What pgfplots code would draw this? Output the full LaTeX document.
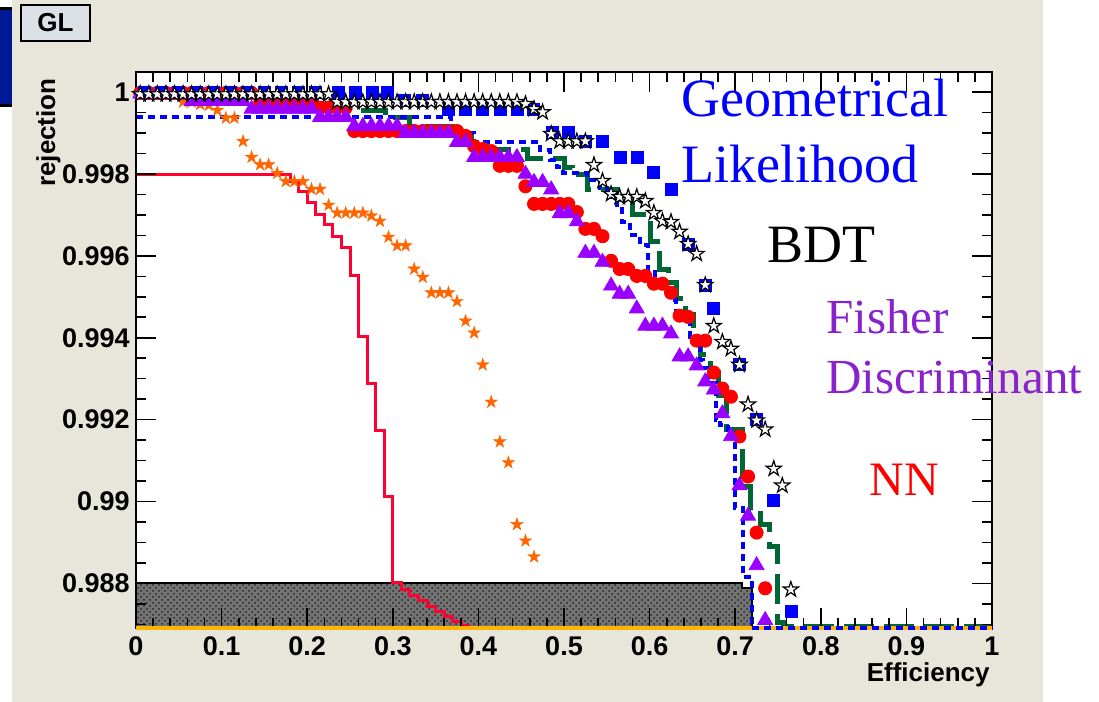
\documentclass[border=0pt]{standalone}
\usepackage{fontspec}
\setmainfont{Liberation Sans}
\newfontfamily\serifont{Liberation Serif}
\usepackage{pgfplots}
\pgfplotsset{compat=1.18}
\usetikzlibrary{patterns}

\definecolor{canvas}{RGB}{232,229,218}
\definecolor{glbox}{RGB}{220,225,232}
\definecolor{barblue}{RGB}{0,25,150}
\definecolor{nnred}{RGB}{255,0,51}
\definecolor{ostar}{RGB}{255,102,0}
\definecolor{fpurple}{RGB}{153,0,255}
\definecolor{ftext}{RGB}{136,34,204}
\definecolor{dgreen}{RGB}{0,102,51}
\definecolor{gold}{RGB}{255,180,0}

\pgfdeclareplotmark{fstar}{%
  \pgfpathmoveto{\pgfpointpolar{90}{\pgfplotmarksize}}%
  \pgfpathlineto{\pgfpointpolar{126}{0.382\pgfplotmarksize}}%
  \pgfpathlineto{\pgfpointpolar{162}{\pgfplotmarksize}}%
  \pgfpathlineto{\pgfpointpolar{198}{0.382\pgfplotmarksize}}%
  \pgfpathlineto{\pgfpointpolar{234}{\pgfplotmarksize}}%
  \pgfpathlineto{\pgfpointpolar{270}{0.382\pgfplotmarksize}}%
  \pgfpathlineto{\pgfpointpolar{306}{\pgfplotmarksize}}%
  \pgfpathlineto{\pgfpointpolar{342}{0.382\pgfplotmarksize}}%
  \pgfpathlineto{\pgfpointpolar{18}{\pgfplotmarksize}}%
  \pgfpathlineto{\pgfpointpolar{54}{0.382\pgfplotmarksize}}%
  \pgfpathclose
  \pgfusepathqfillstroke}

\pgfplotsset{rootframe/.style={
  at={(68pt,37pt)}, anchor=south west,
  scale only axis, width=428pt, height=277.75pt,
  xmin=0, xmax=1, ymin=0.98691, ymax=1.00048, clip=false}}

\begin{document}
\begin{tikzpicture}
\path[use as bounding box] (0,0) rectangle (549.5pt,351pt);
\fill[white] (0,0) rectangle (549.5pt,351pt);
\fill[canvas] (6pt,0) rectangle (521.5pt,351pt);
\fill[black] (0,297.5pt) rectangle (6pt,347.5pt);
\fill[barblue] (0,299pt) rectangle (6pt,346pt);
\draw[fill=glbox, line width=1pt] (10.5pt,330.5pt) rectangle (45pt,348.5pt);
\node[inner sep=0pt, font=\fontsize{13}{15}\selectfont\bfseries] at (27.75pt,339.5pt) {GL};

\begin{axis}[
  rootframe,
  axis on top,
  axis background/.style={fill=white},
  axis line style={line width=1pt},
  xtick={0,0.1,0.2,0.3,0.4,0.5,0.6,0.7,0.8,0.9,1},
  minor x tick num=4,
  ytick={0.988,0.990,0.992,0.994,0.996,0.998,1},
  minor ytick={0.987,0.9875,0.9885,0.989,0.9895,0.9905,0.991,0.9915,0.9925,0.993,0.9935,0.9945,0.995,0.9955,0.9965,0.997,0.9975,0.9985,0.999,0.9995},
  tick align=inside,
  major tick length=10pt, minor tick length=5pt,
  tick style={black, line width=0.8pt},
  scaled ticks=false,
  ticklabel style={font=\fontsize{13.5}{15}\selectfont\bfseries, inner sep=0pt,
    /pgf/number format/fixed, /pgf/number format/precision=3,
    /pgf/number format/assume math mode=true},
  xticklabel shift=4.3pt, yticklabel shift=3pt,
]
% shaded band
\addplot[draw=black, line width=1.2pt, fill=black!55,
  postaction={pattern=crosshatch dots, pattern color=black!85}]
  coordinates {(0,0.98691)(0,0.98801)(0.708,0.98801)(0.708,0.98789)(0.7196,0.98789)(0.7196,0.98691)} -- cycle;
% NN step line
\addplot[nnred, line width=1.5pt, const plot, no markers] coordinates {
(0,0.99800)(0.18,0.99782)(0.19,0.99757)(0.20,0.99731)(0.21,0.99701)(0.22,0.99676)(0.23,0.99648)(0.24,0.99621)(0.25,0.99551)(0.26,0.99403)(0.27,0.99288)(0.28,0.99174)(0.29,0.99012)(0.30,0.98801)(0.31,0.98784)(0.32,0.98770)(0.33,0.98757)(0.34,0.98744)(0.35,0.98732)(0.36,0.98720)(0.37,0.98708)(0.38,0.98697)(0.39,0.98697)};
% orange stars
\addplot[only marks, mark=fstar, mark size=3.3pt, color=ostar, mark options={fill=ostar, draw=ostar, line width=0.2pt}] coordinates {
(0.005,1.0)(0.015,1.0)(0.025,1.0)(0.035,1.0)(0.045,0.99995)(0.055,0.99976)(0.065,0.99976)(0.075,0.99970)(0.085,0.99968)(0.095,0.99956)(0.105,0.99937)(0.115,0.99937)(0.125,0.99880)(0.135,0.99841)(0.145,0.99823)(0.155,0.99823)(0.165,0.99802)(0.175,0.99782)(0.185,0.99782)(0.195,0.99782)(0.205,0.99763)(0.215,0.99763)(0.225,0.99724)(0.235,0.99705)(0.245,0.99705)(0.255,0.99705)(0.265,0.99705)(0.275,0.99698)(0.285,0.99685)(0.295,0.99646)(0.305,0.99625)(0.315,0.99625)(0.325,0.99568)(0.335,0.99548)(0.345,0.99510)(0.355,0.99510)(0.365,0.99510)(0.375,0.99489)(0.385,0.99441)(0.395,0.99412)(0.405,0.99334)(0.415,0.99243)(0.425,0.99146)(0.435,0.99095)(0.445,0.98944)(0.455,0.98904)(0.465,0.98865)};
% red circles
\addplot[only marks, mark=*, mark size=3.3pt, color=red] coordinates {
(0.005,0.99998)(0.015,0.99998)(0.025,0.99998)(0.035,0.99998)(0.045,0.99998)(0.055,0.99998)(0.065,0.99998)(0.075,0.99998)(0.085,0.99998)(0.095,0.99998)(0.105,0.99998)(0.115,0.99998)(0.125,0.99998)(0.135,0.99998)
(0.145,0.99973)(0.155,0.99973)(0.165,0.99973)(0.175,0.99973)(0.185,0.99973)(0.195,0.99973)(0.205,0.99973)
(0.215,0.99962)(0.225,0.99962)(0.235,0.99962)(0.245,0.99962)
(0.255,0.99905)(0.265,0.99905)(0.275,0.99905)(0.285,0.99905)(0.295,0.99905)(0.305,0.99905)(0.315,0.99905)(0.325,0.99905)(0.335,0.99905)(0.345,0.99905)(0.355,0.99905)(0.365,0.99905)(0.375,0.99905)
(0.385,0.99893)(0.395,0.99868)(0.405,0.99861)(0.415,0.99856)(0.425,0.99820)(0.435,0.99820)(0.445,0.99820)(0.455,0.99770)(0.465,0.99727)(0.475,0.99727)(0.485,0.99727)(0.495,0.99727)(0.505,0.99727)(0.515,0.99707)(0.525,0.99666)(0.535,0.99666)(0.545,0.99648)(0.555,0.99588)(0.565,0.99568)(0.575,0.99568)(0.585,0.99551)(0.595,0.99551)(0.605,0.99532)(0.615,0.99532)(0.625,0.99510)(0.635,0.99454)(0.645,0.99451)(0.655,0.99393)(0.665,0.99393)(0.675,0.99315)(0.685,0.99276)(0.695,0.99256)(0.705,0.99159)(0.715,0.99061)(0.725,0.98924)(0.735,0.98788)};
% purple triangles
\addplot[only marks, mark=triangle*, mark size=4.3pt, color=fpurple] coordinates {
(0.005,0.99996)(0.015,0.99996)(0.025,0.99996)(0.035,0.99996)(0.045,0.99996)(0.055,0.99996)
(0.065,0.99978)(0.075,0.99978)(0.085,0.99978)(0.095,0.99978)(0.105,0.99978)(0.115,0.99978)(0.125,0.99978)
(0.135,0.99959)(0.145,0.99959)(0.155,0.99959)(0.165,0.99959)(0.175,0.99959)(0.185,0.99959)(0.195,0.99959)(0.205,0.99959)
(0.215,0.99939)(0.225,0.99939)(0.235,0.99939)(0.245,0.99939)
(0.255,0.99917)(0.265,0.99917)(0.275,0.99917)(0.285,0.99917)(0.295,0.99917)(0.305,0.99917)
(0.315,0.99900)(0.325,0.99900)(0.335,0.99900)(0.345,0.99900)(0.355,0.99900)(0.365,0.99900)
(0.375,0.99878)(0.385,0.99878)
(0.395,0.99841)(0.405,0.99841)(0.415,0.99841)(0.425,0.99841)(0.435,0.99841)(0.445,0.99841)
(0.455,0.99800)(0.465,0.99780)(0.475,0.99780)(0.485,0.99762)(0.495,0.99704)(0.505,0.99704)(0.515,0.99684)(0.525,0.99607)(0.535,0.99607)(0.545,0.99585)(0.555,0.99527)(0.565,0.99507)(0.575,0.99507)(0.585,0.99471)(0.595,0.99429)(0.605,0.99429)(0.615,0.99429)(0.625,0.99410)(0.635,0.99354)(0.645,0.99354)(0.655,0.99332)(0.665,0.99293)(0.675,0.99273)(0.685,0.99215)(0.695,0.99159)(0.705,0.99039)(0.715,0.98965)(0.725,0.98844)(0.735,0.98710)};
% green dashed step
\addplot[dgreen, line width=2.5pt, const plot, no markers, dash pattern=on 15pt off 5pt] coordinates {
(0,0.99993)(0.207,0.99976)(0.230,0.99956)(0.292,0.99937)(0.320,0.99917)(0.376,0.99900)(0.3925,0.99878)(0.410,0.99859)(0.4568,0.99839)(0.501,0.99817)(0.5105,0.99798)(0.528,0.99761)(0.562,0.99737)(0.5806,0.99700)(0.6005,0.99636)(0.612,0.99566)(0.6215,0.99534)(0.632,0.99497)(0.6414,0.99456)(0.6507,0.99395)(0.659,0.99358)(0.6706,0.99316)(0.680,0.99260)(0.6904,0.99175)(0.708,0.99036)(0.7173,0.98979)(0.729,0.98943)(0.7395,0.98889)(0.749,0.98704)(0.756,0.98694)(1.0,0.98694)};
% blue dotted step
\addplot[blue, line width=2pt, const plot, no markers, dash pattern=on 3.5pt off 2.5pt] coordinates {
(0,0.99939)(0.368,0.99900)(0.395,0.99878)(0.472,0.99859)(0.4836,0.99834)(0.4918,0.99817)(0.4988,0.99802)(0.5269,0.99785)(0.542,0.99766)(0.5502,0.99744)(0.5619,0.99724)(0.5678,0.99683)(0.5771,0.99651)(0.5888,0.99627)(0.5981,0.99566)(0.6063,0.99541)(0.6145,0.99524)(0.6203,0.99512)(0.6262,0.99492)(0.6308,0.99448)(0.6472,0.99402)(0.653,0.99378)(0.6589,0.99346)(0.6624,0.99326)(0.6671,0.99304)(0.6729,0.99290)(0.6776,0.99199)(0.6822,0.99187)(0.6916,0.99168)(0.6998,0.98984)(0.7091,0.98816)(0.7196,0.98694)};
% GL squares
\addplot[only marks, mark=square*, mark size=3pt, color=blue] coordinates {
(0.01,1.0)(0.03,1.0)(0.05,1.0)(0.07,1.0)(0.09,1.0)(0.11,1.0)(0.13,1.0)(0.15,1.0)(0.17,1.0)(0.19,1.0)(0.21,1.0)(0.236,0.99999)(0.256,0.99999)(0.276,0.99999)(0.294,0.99999)(0.314,0.99980)(0.334,0.99980)(0.3645,0.99959)(0.3843,0.99959)(0.4042,0.99959)(0.4252,0.99959)(0.4451,0.99959)(0.4638,0.99959)(0.486,0.99902)(0.5047,0.99902)(0.5245,0.99880)(0.5444,0.99880)(0.5654,0.99841)(0.5853,0.99841)(0.604,0.99805)(0.625,0.99763)(0.6449,0.99627)(0.6647,0.99529)(0.6741,0.99471)(0.7044,0.99334)(0.7243,0.99200)(0.7442,0.99002)(0.7652,0.98732)};
% BDT open stars
\addplot[only marks, mark=fstar, mark size=4pt, mark options={draw=black, fill=white, line width=0.6pt}] coordinates {
(0.005,0.99995)(0.015,0.99995)(0.025,0.99995)(0.035,0.99995)(0.045,0.99995)(0.055,0.99995)(0.065,0.99995)(0.075,0.99995)(0.085,0.99995)(0.095,0.99995)(0.105,0.99995)(0.115,0.99995)(0.125,0.99995)(0.135,0.99995)(0.145,0.99995)(0.155,0.99995)(0.165,0.99995)(0.175,0.99995)(0.185,0.99995)(0.195,0.99995)(0.205,0.99995)(0.215,0.99995)(0.225,0.99995)
(0.235,0.99976)(0.245,0.99976)(0.255,0.99976)(0.265,0.99976)(0.275,0.99976)(0.285,0.99976)(0.295,0.99976)(0.305,0.99976)(0.315,0.99976)(0.325,0.99976)(0.335,0.99976)(0.345,0.99976)(0.355,0.99976)(0.365,0.99976)(0.375,0.99976)(0.385,0.99976)(0.395,0.99976)(0.405,0.99976)(0.415,0.99976)(0.425,0.99976)(0.435,0.99976)(0.445,0.99976)
(0.455,0.99971)(0.465,0.99959)(0.475,0.99951)(0.485,0.99898)(0.495,0.99880)(0.505,0.99880)(0.515,0.99880)(0.525,0.99880)(0.535,0.99822)(0.545,0.99783)(0.555,0.99751)(0.565,0.99744)(0.575,0.99744)(0.585,0.99744)(0.595,0.99734)(0.605,0.99705)(0.615,0.99685)(0.625,0.99683)(0.635,0.99659)(0.645,0.99629)(0.655,0.99605)(0.665,0.99529)(0.675,0.99429)(0.685,0.99390)(0.695,0.99373)(0.705,0.99334)(0.715,0.99237)(0.725,0.99198)(0.735,0.99176)(0.745,0.99080)(0.755,0.99039)(0.765,0.98785)};
\end{axis}

% overlay: curves lying on the lower frame edge
\begin{axis}[rootframe, hide axis]
\addplot[gold, line width=1.6pt, no markers] coordinates {(0,0.98691)(1,0.98691)};
\addplot[blue, line width=2pt, no markers, dash pattern=on 3.5pt off 2.5pt] coordinates {(0.7196,0.98691)(1,0.98691)};
\end{axis}

\node[rotate=90, anchor=base east, inner sep=0pt, font=\fontsize{13}{15}\selectfont\bfseries] at (27.5pt,312pt) {rejection};
\node[anchor=base east, inner sep=0pt, font=\fontsize{13}{15}\selectfont\bfseries] at (495pt,10pt) {Efficiency};

\begin{scope}[every node/.style={anchor=base west, inner sep=0pt}]
\node[text=blue, font=\serifont\fontsize{27}{30}\selectfont] at (340.5pt,292.5pt) {Geometrical};
\node[text=blue, font=\serifont\fontsize{27}{30}\selectfont] at (340.5pt,259.5pt) {Likelihood};
\node[text=black, font=\serifont\fontsize{27}{30}\selectfont] at (383.5pt,219.5pt) {BDT};
\node[text=ftext, font=\serifont\fontsize{24.5}{28}\selectfont] at (413pt,184pt) {Fisher};
\node[text=ftext, font=\serifont\fontsize{24.5}{28}\selectfont] at (413pt,154pt) {Discriminant};
\node[text=red, font=\serifont\fontsize{24}{28}\selectfont] at (434.5pt,103pt) {NN};
\end{scope}
\end{tikzpicture}
\end{document}
